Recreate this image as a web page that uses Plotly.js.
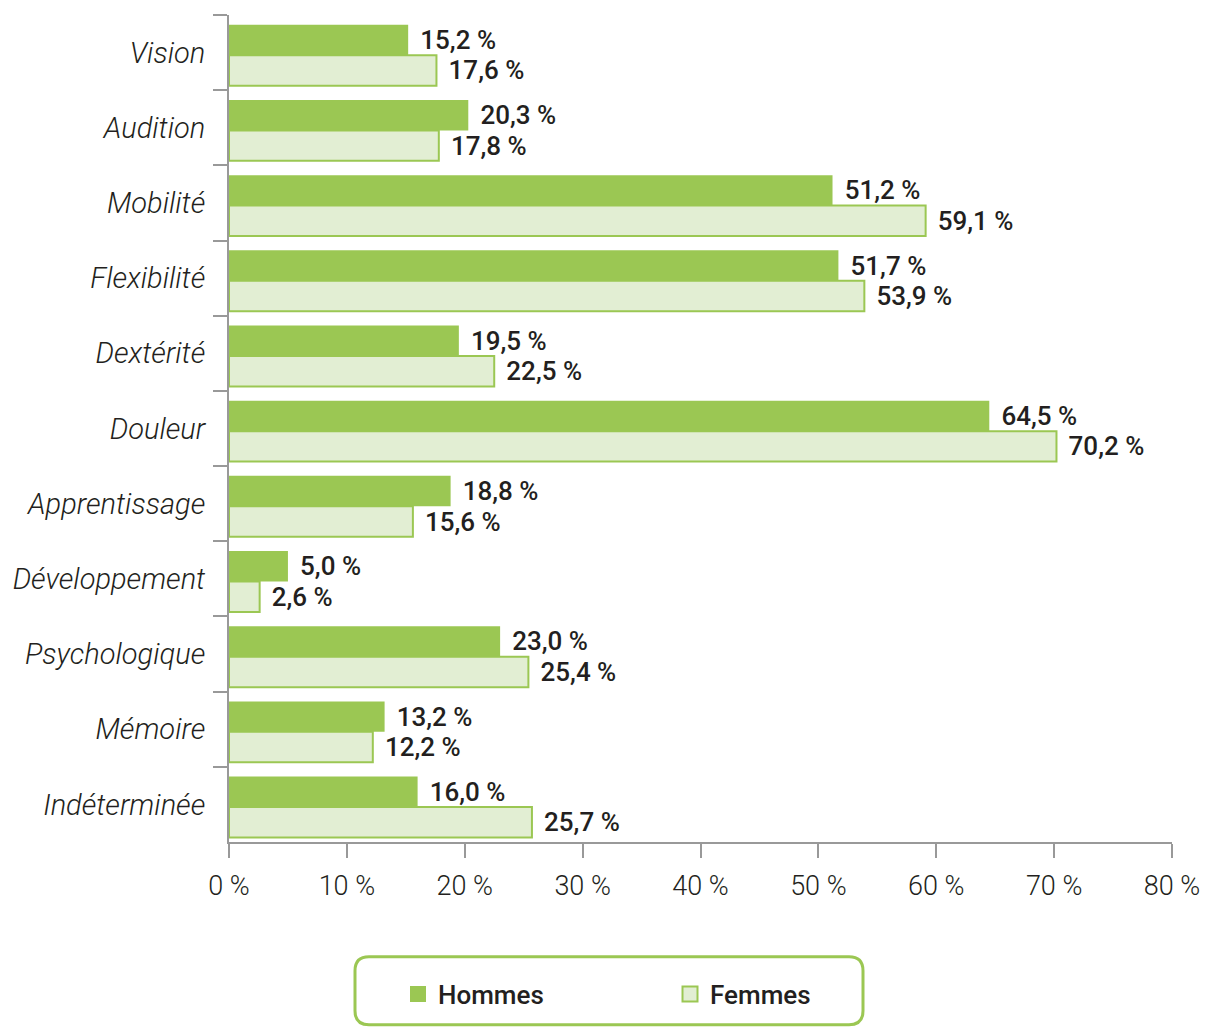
<!DOCTYPE html>
<html>
<head>
<meta charset="utf-8">
<script src="https://cdn.plot.ly/plotly-3.0.1.min.js"></script>
<style>
  html, body { margin: 0; padding: 0; background: #fff; }
  #chart { width: 1205px; height: 1028px; }
</style>
</head>
<body>
<div id="chart"></div>
<script>
const categories = ["Vision", "Audition", "Mobilité", "Flexibilité", "Dextérité", "Douleur",
  "Apprentissage", "Développement", "Psychologique", "Mémoire", "Indéterminée"];
const hommes = [15.2, 20.3, 51.2, 51.7, 19.5, 64.5, 18.8, 5.0, 23.0, 13.2, 16.0];
const femmes = [17.6, 17.8, 59.1, 53.9, 22.5, 70.2, 15.6, 2.6, 25.4, 12.2, 25.7];
const seriesNames = ["Hommes", "Femmes"];
const xTickVals = [0, 10, 20, 30, 40, 50, 60, 70, 80];
const xTickText = ["0\u00a0%", "10\u00a0%", "20\u00a0%", "30\u00a0%", "40\u00a0%", "50\u00a0%", "60\u00a0%", "70\u00a0%", "80\u00a0%"];

const GREEN = "#9bc753";
const LIGHT = "#e2eed3";
const TXT = "#231f20";
const AXIS = "#999999";
const FONT = "Roboto, 'DejaVu Sans Condensed', sans-serif";

function fmt(v) { return "\u00a0\u200a" + v.toFixed(1).replace(".", ",") + "\u00a0%"; }

const W = 1205, H = 1028;
const M = { l: 229, r: 33, t: 15, b: 185 };
const pw = W - M.l - M.r, ph = H - M.t - M.b;
const px = x => (x - M.l) / pw;
const py = y => (H - M.b - y) / ph;

const BW = 0.405, SHIFT = 0.035;
const labelFont = { family: FONT, size: 26, color: TXT, weight: 500 };

const traces = [
  {
    type: "bar", orientation: "h", name: seriesNames[0], showlegend: false,
    y: categories, x: hommes, width: BW, offset: -BW + SHIFT,
    text: hommes.map(fmt), textposition: "outside", cliponaxis: false,
    textfont: labelFont,
    marker: { color: GREEN, line: { width: 0 } }
  },
  {
    type: "bar", orientation: "h", name: seriesNames[1], showlegend: false,
    y: categories, x: femmes, width: BW, offset: SHIFT,
    text: femmes.map(fmt), textposition: "outside", cliponaxis: false,
    textfont: labelFont,
    marker: { color: LIGHT, line: { width: 2, color: GREEN } }
  },
  // legend-only entries (larger square swatches)
  {
    type: "scatter", mode: "markers", name: seriesNames[0], x: [null], y: [null],
    marker: { symbol: "square", size: 16, color: GREEN, line: { width: 0 } },
    hoverinfo: "skip"
  },
  {
    type: "scatter", mode: "markers", name: seriesNames[1], x: [null], y: [null],
    marker: { symbol: "square", size: 15, color: LIGHT, line: { width: 2, color: GREEN } },
    hoverinfo: "skip"
  }
];

// rounded legend frame
const bx0 = px(355), bx1 = px(863), by0 = py(958), by1 = py(1026);
const rx = 14 / pw, ry = 14 / ph;
const framePath =
  `M ${bx0 + rx} ${by0} L ${bx1 - rx} ${by0} Q ${bx1} ${by0} ${bx1} ${by0 - ry} ` +
  `L ${bx1} ${by1 + ry} Q ${bx1} ${by1} ${bx1 - rx} ${by1} ` +
  `L ${bx0 + rx} ${by1} Q ${bx0} ${by1} ${bx0} ${by1 + ry} ` +
  `L ${bx0} ${by0 - ry} Q ${bx0} ${by0} ${bx0 + rx} ${by0} Z`;

const layout = {
  width: W, height: H,
  margin: M,
  paper_bgcolor: "#fff", plot_bgcolor: "#fff",
  barmode: "group", bargap: 0.19, bargroupgap: 0,
  font: { family: FONT, color: TXT },
  showlegend: true,
  legend: {
    orientation: "h", x: px(398), y: py(994), xanchor: "left", yanchor: "middle",
    font: { family: FONT, size: 26, color: TXT, weight: 500 },
    bgcolor: "rgba(0,0,0,0)", borderwidth: 0,
    entrywidth: 227, entrywidthmode: "pixels", traceorder: "normal",
    itemsizing: "trace"
  },
  xaxis: {
    range: [0, 80], tickvals: xTickVals, ticktext: xTickText,
    showgrid: false, zeroline: false,
    showline: true, linecolor: AXIS, linewidth: 2,
    ticks: "outside", ticklen: 14, tickwidth: 2, tickcolor: AXIS,
    ticklabelstandoff: 5,
    tickfont: { family: FONT, size: 27, color: TXT, weight: 300 },
    fixedrange: true
  },
  yaxis: {
    autorange: "reversed", type: "category",
    showgrid: false, zeroline: false,
    showline: true, linecolor: AXIS, linewidth: 2,
    ticks: "outside", tickson: "boundaries", ticklen: 14, tickwidth: 2, tickcolor: AXIS,
    ticklabelstandoff: 16,
    tickfont: { family: FONT, size: 29, color: TXT, style: "italic", weight: 300 },
    fixedrange: true
  },
  shapes: [{
    type: "path", xref: "paper", yref: "paper", path: framePath,
    line: { color: GREEN, width: 3 }, fillcolor: "rgba(0,0,0,0)", layer: "below"
  }]
};

Plotly.newPlot("chart", traces, layout, { displayModeBar: false, staticPlot: true });
</script>
</body>
</html>
